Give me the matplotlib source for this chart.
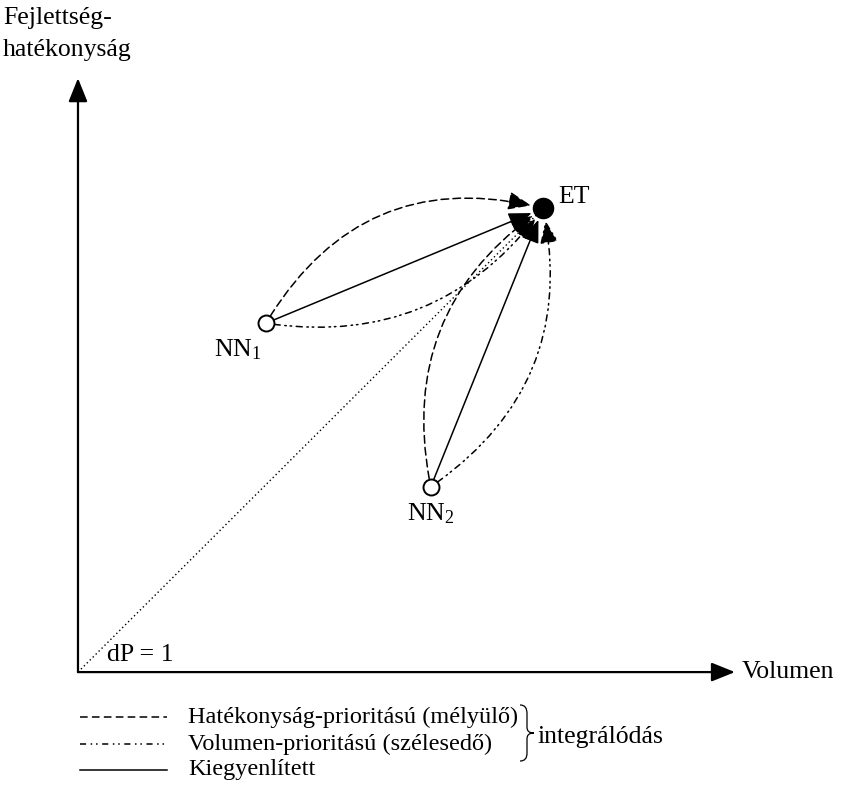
import matplotlib
matplotlib.use("Agg")
import matplotlib.pyplot as plt
from matplotlib.patches import FancyArrowPatch, PathPatch
from matplotlib.path import Path
from matplotlib.lines import Line2D
from matplotlib.transforms import Affine2D

plt.rcParams['font.family'] = ['Liberation Serif', 'DejaVu Serif']
plt.rcParams['mathtext.fontset'] = 'custom'
plt.rcParams['mathtext.rm'] = 'Liberation Serif'
plt.rcParams['mathtext.it'] = 'Liberation Serif:italic'

# node positions (volumen, hatékonyság), x axis runs 0..100
node_names = ['ET', 'NN1', 'NN2']
node_x = [70.8, 28.6, 53.7]
node_y = [70.6, 53.1, 28.2]
x_axis_end = 100
y_axis_end = 90.4

# paths into ET: (start node, style, curvature)
path_from = ['NN1', 'NN1', 'NN1', 'NN2', 'NN2', 'NN2']
path_kind = ['hat', 'kieg', 'vol', 'hat', 'kieg', 'vol']
path_rad = [-0.37, 0.0, 0.3, -0.33, 0.0, 0.33]

styles = {
    'hat': (0, (5, 2.8)),
    'vol': (0, (4, 3, 1, 2.5, 1, 3)),
    'kieg': '-',
}
legend_labels = ['Hatékonyság-prioritású (mélyülő)',
                 'Volumen-prioritású (szélesedő)',
                 'Kiegyenlített']
legend_kinds = ['hat', 'vol', 'kieg']

FS = 18.5
FS_LEG = 17.5

fig = plt.figure(figsize=(8.44, 7.91), dpi=100)
ax = fig.add_axes([0, 0, 1, 1])
ax.set_xlim(-11.87, 116.6)
ax.set_ylim(-18.1, 102.3)
ax.axis('off')

pos = {n: (x, y) for n, x, y in zip(node_names, node_x, node_y)}

# axes with arrows
for end in [(x_axis_end, 0), (0, y_axis_end)]:
    ax.add_patch(FancyArrowPatch((0, 0), end, arrowstyle='-|>,head_length=0.72,head_width=0.29',
                                 mutation_scale=20, lw=1.6, color='black', shrinkA=0, shrinkB=0))

# dP = 1 diagonal
ax.plot([0, pos['ET'][0]], [0, pos['ET'][1]], color='black', lw=1.0, linestyle=(0, (1, 2)))

for src, kind, rad in zip(path_from, path_kind, path_rad):
    ax.add_patch(FancyArrowPatch(pos[src], pos['ET'],
                                 connectionstyle='arc3,rad=%s' % rad,
                                 arrowstyle='-|>,head_length=0.7,head_width=0.28',
                                 mutation_scale=20, lw=1.1, color='black',
                                 linestyle=styles[kind], shrinkA=6, shrinkB=9, zorder=3))

# nodes
ax.plot(node_x[1:], node_y[1:], 'o', ms=11.5, mfc='white', mec='black', mew=1.4, zorder=5)
ax.plot(node_x[:1], node_y[:1], 'o', ms=14.5, mfc='black', mec='black', zorder=5)

ax.annotate('ET', pos['ET'], xytext=(11, 8), textcoords='offset points',
            ha='left', va='center', fontsize=FS)
ax.annotate(r'NN$_1$', pos['NN1'], xytext=(-3, -10), textcoords='offset points',
            ha='right', va='top', fontsize=FS)
ax.annotate(r'NN$_2$', pos['NN2'], xytext=(0, -10.5), textcoords='offset points',
            ha='center', va='top', fontsize=FS)
ax.annotate('dP = 1', (0, 0), xytext=(21, 12), textcoords='offset points',
            ha='left', va='center', fontsize=FS)
ax.annotate('Volumen', (x_axis_end, 0), xytext=(5, 0), textcoords='offset points',
            ha='left', va='center', fontsize=FS)

# y label, top left
fig.text(3 / 844, 1 - 18 / 791, 'Fejlettség-', ha='left', va='center', fontsize=FS)
fig.text(3 / 844, 1 - 50 / 791, 'hatékonyság', ha='left', va='center', fontsize=FS)

# legend (pixel positions from the top left corner)
px = Affine2D().scale(0.01, -0.01).translate(0, 7.91) + fig.dpi_scale_trans
leg_y = [717, 744, 770]
for yy, lab, kind in zip(leg_y, legend_labels, legend_kinds):
    fig.add_artist(Line2D([80, 167], [yy, yy], transform=px, color='black', lw=1.1,
                          linestyle=styles[kind]))
    fig.text(188 / 844, 1 - yy / 791, lab, ha='left', va='center', fontsize=FS_LEG)

bx = 527
brace = Path([(bx - 7, 705), (bx - 2, 705), (bx, 708), (bx, 714),
              (bx, 727),
              (bx, 731), (bx + 2, 733), (bx + 7, 733),
              (bx + 2, 733), (bx, 735), (bx, 739),
              (bx, 753),
              (bx, 758), (bx - 2, 761), (bx - 7, 761)],
             [Path.MOVETO, Path.CURVE4, Path.CURVE4, Path.CURVE4,
              Path.LINETO,
              Path.CURVE4, Path.CURVE4, Path.CURVE4,
              Path.CURVE4, Path.CURVE4, Path.CURVE4,
              Path.LINETO,
              Path.CURVE4, Path.CURVE4, Path.CURVE4])
fig.add_artist(PathPatch(brace, transform=px, fill=False, lw=0.9, color='black'))
fig.text((bx + 11) / 844, 1 - 737 / 791, 'integrálódás', ha='left', va='center', fontsize=FS)

fig.savefig('out.png', dpi=100)
